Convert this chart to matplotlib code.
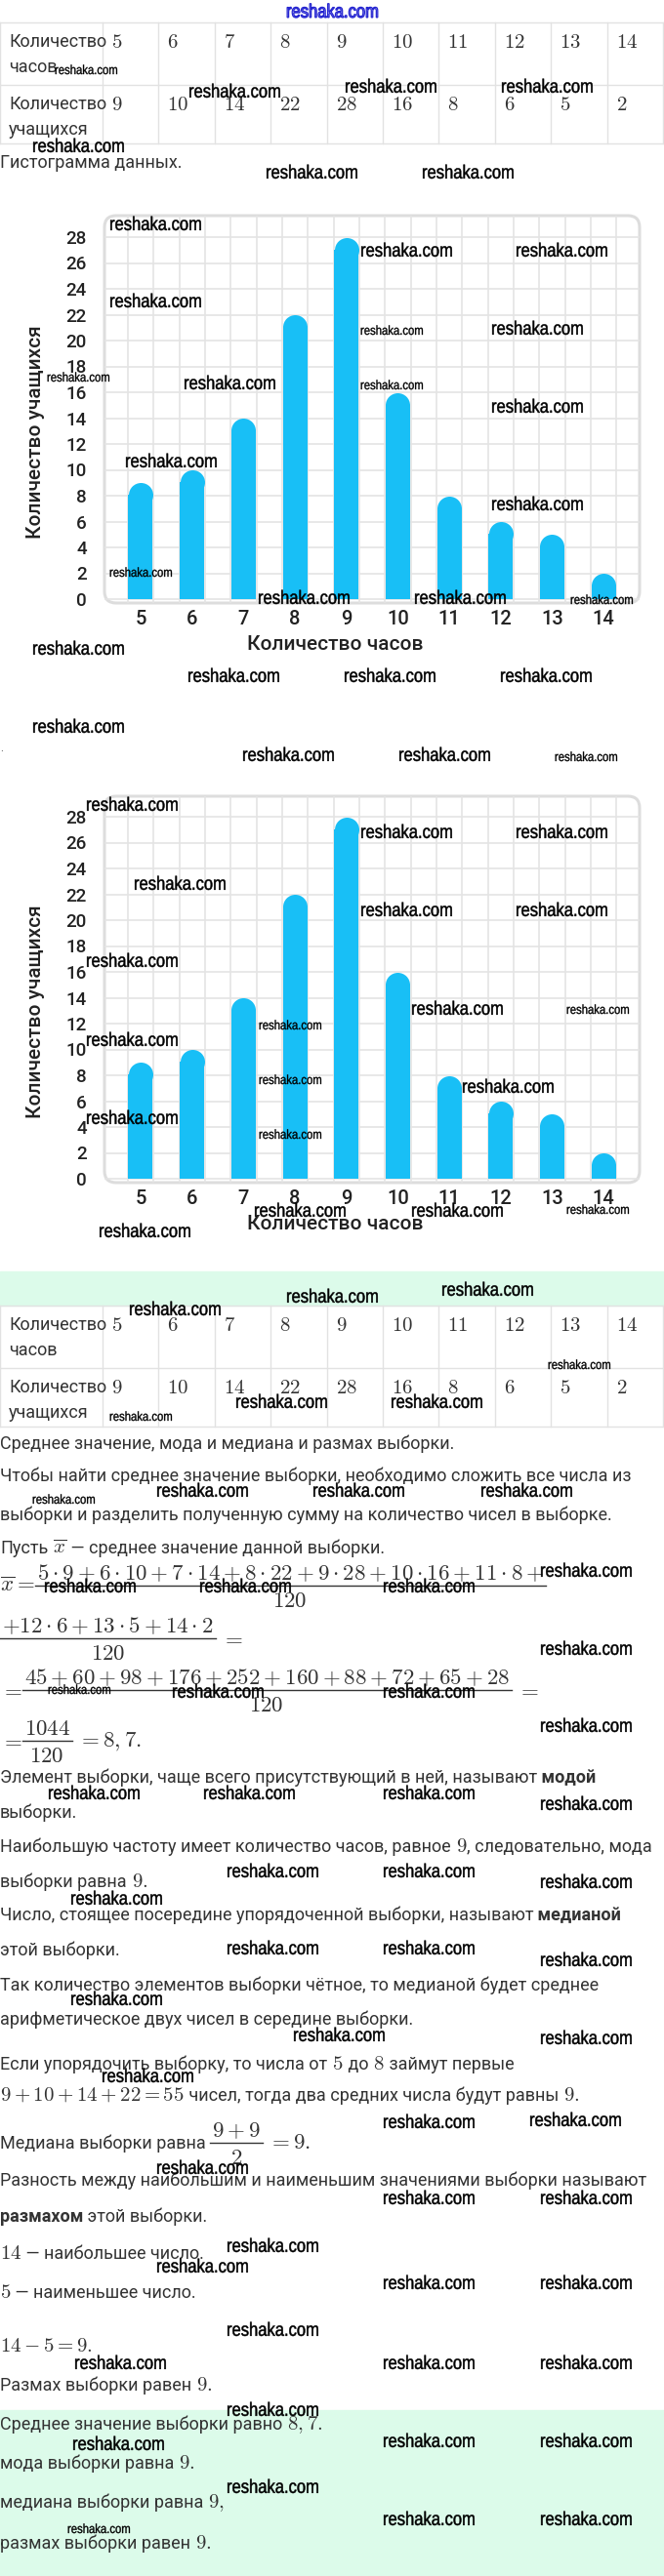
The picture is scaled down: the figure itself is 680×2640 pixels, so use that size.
import matplotlib
matplotlib.use("Agg")
import matplotlib.pyplot as plt
from matplotlib.patches import FancyBboxPatch, Rectangle, PathPatch
from matplotlib.textpath import TextPath
from matplotlib.font_manager import FontProperties
from matplotlib.transforms import Affine2D
import numpy as np

plt.rcParams['font.family'] = ['Roboto', 'DejaVu Sans']
plt.rcParams['mathtext.fontset'] = 'cm'

# --- data ---
hours = [5, 6, 7, 8, 9, 10, 11, 12, 13, 14]
students = [9, 10, 14, 22, 28, 16, 8, 6, 5, 2]
y_ticks = list(range(0, 29, 2))
row_head = [("Количество", "часов"), ("Количество", "учащихся")]
x_title = "Количество часов"
y_title = "Количество учащихся"

W, H = 680, 2640
fig = plt.figure(figsize=(W / 100, H / 100), dpi=100)
page = fig.add_axes([0, 0, 1, 1])
page.set_xlim(0, W)
page.set_ylim(H, 0)
page.axis("off")
rend = fig.canvas.get_renderer()

TXT = "#333333"
BODY = 13
MATH = 15
FRAC = 16.5
BAR = "#18bff6"
GRID = "#e4e4e4"


def draw_table(top):
    edges = [0, 105] + list(105 + 57.4 * np.arange(1, 11))
    rows = [top, top + 64, top + 124]
    for y in rows:
        page.plot([0, W], [y, y], color="#e2e2e2", lw=1)
    for x in edges:
        page.plot([x, x], [top, top + 124], color="#e2e2e2", lw=1)
    for r, vals in enumerate([hours, students]):
        y0 = rows[r]
        page.text(9, y0 + 25, row_head[r][0], fontsize=BODY, color=TXT, va="baseline")
        page.text(9, y0 + 51, row_head[r][1], fontsize=BODY, color=TXT, va="baseline")
        for i, v in enumerate(vals):
            page.text(edges[i + 1] + 9, y0 + 26, f"${v}$", fontsize=MATH, color=TXT, va="baseline")


PPU_X = 52.67
PPU_Y = 13.25


def draw_chart(top, zero):
    left, right = 107, 655
    bottom = zero + 4
    page.add_patch(FancyBboxPatch((left, top), right - left, bottom - top,
                                  boxstyle="round,pad=0,rounding_size=12",
                                  fc="white", ec="#dddddd", lw=2.2, zorder=1))
    ax = fig.add_axes([left / W, 1 - bottom / H, (right - left) / W, (bottom - top) / H])
    ax.set_xlim(5 - (144 - left) / PPU_X, 5 + (right - 144) / PPU_X)
    ax.set_ylim(-(bottom - zero) / PPU_Y, (zero - top) / PPU_Y)
    ax.patch.set_visible(False)
    for s in ax.spines.values():
        s.set_visible(False)
    for gx in np.arange(4.75, 14.3, 0.5):
        ax.axvline(gx, color=GRID, lw=1.2, zorder=0)
    for gy in y_ticks:
        ax.axhline(gy, color=GRID, lw=1.2, zorder=0)
    # bars with round tops: bar body + a circle of the bar's width on top
    r = 12.5 / PPU_Y
    tops = [v - r for v in students]
    ax.bar(hours, tops, width=25 / PPU_X, color=BAR, zorder=2)
    ax.scatter(hours, tops, s=(25 * 0.72) ** 2, color=BAR, zorder=2, linewidths=0)
    ax.set_xticks(hours, [str(h) for h in hours], fontsize=14.5, fontweight=500)
    ax.set_yticks(y_ticks, [str(t) for t in y_ticks], fontsize=13.5, fontweight=500)
    ax.tick_params(length=0, labelcolor="#222222")
    ax.tick_params(axis="y", pad=13)
    ax.tick_params(axis="x", pad=5)
    page.text(37, zero - 171, y_title, rotation=90, ha="center", va="center",
              fontsize=15, fontweight=500, color="#222222")
    page.text(343, zero + 46, x_title, ha="center", va="center", fontsize=15,
              fontweight=500, color="#222222")


def seq(base, parts, msize=MATH, x=0):
    # parts placed one after the other on a common baseline;
    # a (num, den) tuple is drawn as a stacked fraction
    for p in parts:
        if isinstance(p, tuple):
            bar = base - 6
            tn = page.text(0, bar - 6, f"${p[0]}$", fontsize=msize, color=TXT,
                           ha="center", va="baseline")
            td = page.text(0, bar + 22, f"${p[1]}$", fontsize=msize, color=TXT,
                           ha="center", va="baseline")
            w = max(tn.get_window_extent(rend).width, td.get_window_extent(rend).width) + 4
            tn.set_x(x + w / 2)
            td.set_x(x + w / 2)
            page.plot([x, x + w], [bar, bar], color=TXT, lw=1)
            x += w
            continue
        weight = "normal"
        if p.startswith("*"):
            p, weight = p[1:], "bold"
        size = msize if "$" in p else BODY
        t = page.text(x, base, p, fontsize=size, fontweight=weight, color=TXT, va="baseline")
        x += t.get_window_extent(rend).width


# --- top table and first chart ---
draw_table(23)
page.text(0, 172, "Гистограмма данных.", fontsize=BODY, color=TXT, va="baseline")
draw_chart(221, 614)
page.text(0, 767, ".", fontsize=8, color=TXT, va="center")
draw_chart(816, 1208)

# green bands
page.add_patch(Rectangle((0, 1303), W, 35, color="#dcfbea", zorder=0))
page.add_patch(Rectangle((0, 2470), W, 170, color="#dcfbea", zorder=0))
draw_table(1338)

# --- solution text ---
n = sum(students)
terms = [rf"{h}\cdot {s}" for h, s in zip(hours, students)]
products = [h * s for h, s in zip(hours, students)]
total = sum(products)
mean = f"{total / n:.1f}".replace(".", ",")

# y of the fraction bar for each display formula
formulas = [
    (1625, [r"$\overline{x} =\;$", ("+".join(terms[:7]) + "+", str(n))]),
    (1679, [("+" + "+".join(terms[7:]), str(n)), r"$\;=$"]),
    (1732, [r"$=\;$", ("+".join(str(p) for p in products), str(n)), r"$\;=$"]),
    (1784, [r"$=\;$", (str(total), str(n)), r"$\;= " + mean + ".$"]),
]
for bar, parts in formulas:
    seq(bar + 6, parts, msize=FRAC)

text_lines = [
    (1480, ["Среднее значение, мода и медиана и размах выборки."]),
    (1513, ["Чтобы найти среднее значение выборки, необходимо сложить все числа из"]),
    (1553, ["выборки и разделить полученную сумму на количество чисел в выборке."]),
    (1587, ["Пусть", r" $\overline{x}$", " — среднее значение данной выборки."]),
    (1822, ["Элемент выборки, чаще всего присутствующий в ней, называют", "* модой"]),
    (1858, ["выборки."]),
    (1893, ["Наибольшую частоту имеет количество часов, равное", " $9$", ", следовательно, мода"]),
    (1929, ["выборки равна", " $9.$"]),
    (1963, ["Число, стоящее посередине упорядоченной выборки, называют", "* медианой"]),
    (1999, ["этой выборки."]),
    (2035, ["Так количество элементов выборки чётное, то медианой будет среднее"]),
    (2070, ["арифметическое двух чисел в середине выборки."]),
    (2116, ["Если упорядочить выборку, то числа от", " $5$", " до", " $8$", " займут первые"]),
    (2148, ["$9+10+14+22=55$", " чисел, тогда два средних числа будут равны", " $9.$"]),
    (2235, ["Разность между наибольшим и наименьшим значениями выборки называют"]),
    (2272, ["*размахом", " этой выборки."]),
    (2310, ["$14$", " — наибольшее число."]),
    (2350, ["$5$", " — наименьшее число."]),
    (2405, ["$14-5=9.$"]),
    (2445, ["Размах выборки равен", " $9.$"]),
    (2485, ["Среднее значение выборки равно", " $" + mean + ".$"]),
    (2525, ["мода выборки равна", " $9.$"]),
    (2565, ["медиана выборки равна", " $9,$"]),
    (2607, ["размах выборки равен", " $9.$"]),
]
for y, parts in text_lines:
    seq(y + 5, parts)
seq(2202, ["Медиана выборки равна ", ("9+9", "2"), r"$\;=9.$"], msize=FRAC)

# --- watermarks on top of everything ---
wm = fig.add_axes([0, 0, 1, 1], zorder=20)
wm.set_xlim(0, W)
wm.set_ylim(H, 0)
wm.axis("off")

wm_path = TextPath((0, 0), "reshaka.com", size=1, prop=FontProperties(family="Liberation Sans"))


def stamp(x, y, em, fc="black", ec="black", lw=0.35):
    # condensed watermark word, y is its visual middle
    tr = Affine2D().scale(em * 0.85, -em).translate(x, y + 0.3 * em) + wm.transData
    wm.add_patch(PathPatch(wm_path, transform=tr, fc=fc, ec=ec, lw=lw))


wm_big = [
    (193, 94), (353, 89), (513, 89), (33, 150), (272, 177), (432, 177),
    (112, 230), (369, 257), (528, 257), (112, 309), (503, 337), (188, 393),
    (503, 417), (128, 473), (503, 517), (264, 613), (424, 613), (33, 665),
    (192, 693), (352, 693), (512, 693), (33, 745), (248, 774), (408, 774),
    (88, 825), (369, 853), (528, 853), (137, 906), (369, 933), (528, 933),
    (88, 985), (421, 1034), (88, 1066), (473, 1114), (88, 1146), (260, 1241),
    (421, 1241), (101, 1262), (452, 1322), (293, 1329), (132, 1342), (241, 1437),
    (400, 1437), (160, 1528), (320, 1528), (492, 1528), (553, 1610), (45, 1626),
    (204, 1626), (392, 1626), (553, 1690), (176, 1734), (392, 1734), (553, 1769),
    (49, 1838), (208, 1838), (392, 1838), (553, 1849), (232, 1918), (392, 1918),
    (553, 1929), (72, 1946), (232, 1997), (392, 1997), (553, 2009), (72, 2049),
    (300, 2086), (553, 2089), (104, 2128), (392, 2175), (542, 2173), (160, 2222),
    (392, 2253), (553, 2253), (232, 2302), (160, 2323), (392, 2340), (553, 2340),
    (232, 2388), (76, 2422), (392, 2422), (553, 2422), (232, 2470), (74, 2505),
    (392, 2502), (553, 2502), (232, 2549), (392, 2582), (553, 2582),
]
wm_small = [
    (56, 72), (369, 339), (48, 387), (369, 395), (112, 587), (584, 615),
    (568, 776), (580, 1035), (265, 1051), (265, 1107), (265, 1163), (580, 1240),
    (561, 1399), (112, 1452), (33, 1537), (49, 1732), (69, 2592),
]
for x, y in wm_big:
    stamp(x, y, 19.5)
for x, y in wm_small:
    stamp(x, y, 13.3, lw=0.25)
stamp(293, 12, 19.5, fc="#dcdcff", ec="#2525d0", lw=0.9)

fig.savefig("out.png", dpi=100)
